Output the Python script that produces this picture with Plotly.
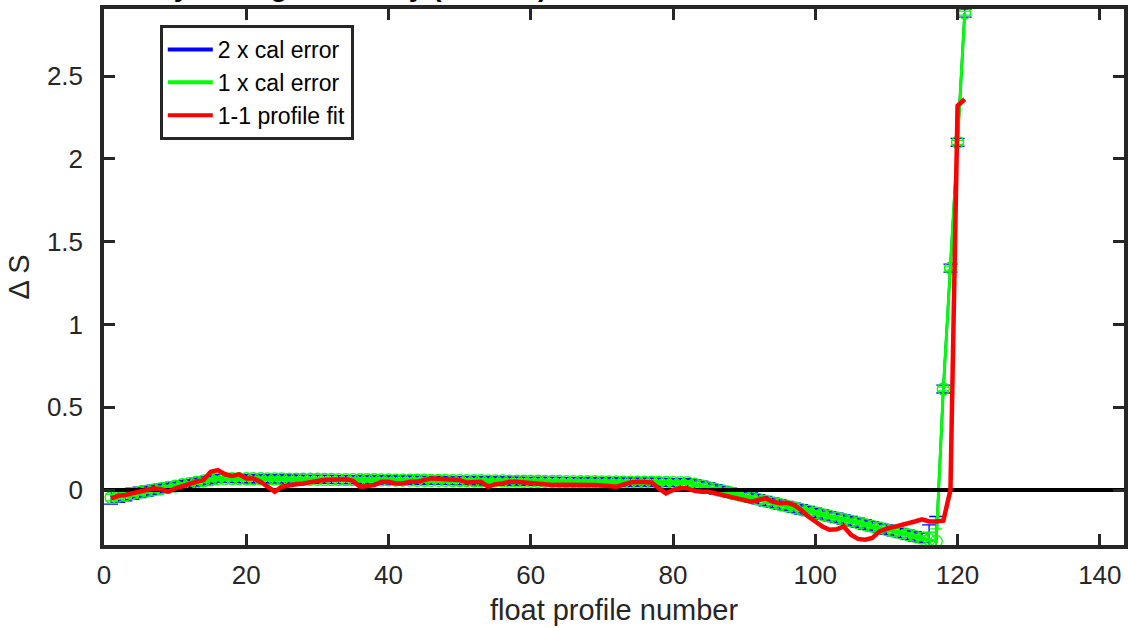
import plotly.graph_objects as go

# ---------------- data ----------------
profiles = list(range(1, 122))

cal_offset = [
    -0.045, -0.037, -0.030, -0.022, -0.014, -0.007, 0.001, 0.009, 0.016, 0.024,
    0.032, 0.039, 0.047, 0.055, 0.062, 0.070, 0.070, 0.069, 0.069, 0.068,
    0.068, 0.068, 0.067, 0.067, 0.067, 0.066, 0.066, 0.065, 0.065, 0.065,
    0.064, 0.064, 0.063, 0.063, 0.063, 0.062, 0.062, 0.062, 0.061, 0.061,
    0.060, 0.060, 0.060, 0.059, 0.059, 0.058, 0.058, 0.058, 0.057, 0.057,
    0.057, 0.056, 0.056, 0.055, 0.055, 0.055, 0.054, 0.054, 0.053, 0.053,
    0.053, 0.052, 0.052, 0.052, 0.051, 0.051, 0.050, 0.050, 0.050, 0.049,
    0.049, 0.049, 0.048, 0.048, 0.047, 0.047, 0.047, 0.046, 0.046, 0.045,
    0.045, 0.045, 0.035, 0.025, 0.015, 0.004, -0.006, -0.016, -0.026, -0.036,
    -0.046, -0.056, -0.067, -0.077, -0.087, -0.097, -0.107, -0.117, -0.127, -0.138,
    -0.148, -0.158, -0.168, -0.178, -0.188, -0.198, -0.209, -0.219, -0.229, -0.239,
    -0.249, -0.259, -0.270, -0.280, -0.290, -0.300, -0.310, 0.610, 1.340, 2.100,
    2.880,
]

cal_error = [
    0.020, 0.019, 0.018, 0.017, 0.016, 0.015, 0.014, 0.013, 0.013, 0.012,
    0.012, 0.012, 0.012, 0.012, 0.012, 0.012, 0.012, 0.012, 0.012, 0.012,
    0.012, 0.012, 0.012, 0.012, 0.012, 0.012, 0.012, 0.012, 0.012, 0.012,
    0.012, 0.012, 0.012, 0.012, 0.012, 0.012, 0.012, 0.012, 0.012, 0.012,
    0.012, 0.012, 0.012, 0.012, 0.012, 0.012, 0.012, 0.012, 0.012, 0.012,
    0.012, 0.012, 0.012, 0.012, 0.012, 0.012, 0.012, 0.012, 0.012, 0.012,
    0.012, 0.012, 0.012, 0.012, 0.012, 0.012, 0.012, 0.012, 0.012, 0.012,
    0.012, 0.012, 0.012, 0.012, 0.012, 0.012, 0.012, 0.012, 0.012, 0.012,
    0.012, 0.012, 0.014, 0.014, 0.014, 0.014, 0.014, 0.014, 0.014, 0.014,
    0.014, 0.014, 0.014, 0.014, 0.014, 0.014, 0.014, 0.014, 0.014, 0.014,
    0.014, 0.014, 0.014, 0.014, 0.014, 0.014, 0.014, 0.014, 0.014, 0.014,
    0.014, 0.014, 0.014, 0.014, 0.014, 0.045, 0.075, 0.012, 0.012, 0.012,
    0.012,
]

profile_fit = [
    -0.050, -0.035, -0.030, -0.020, -0.010, 0.000, 0.010, 0.005, -0.010, 0.010,
    0.025, 0.040, 0.050, 0.060, 0.110, 0.120, 0.095, 0.085, 0.095, 0.070,
    0.070, 0.050, 0.020, -0.010, 0.020, 0.030, 0.035, 0.040, 0.050, 0.055,
    0.060, 0.062, 0.065, 0.065, 0.055, 0.020, 0.025, 0.030, 0.050, 0.050,
    0.040, 0.040, 0.050, 0.050, 0.060, 0.070, 0.068, 0.065, 0.065, 0.060,
    0.045, 0.045, 0.050, 0.020, 0.035, 0.040, 0.050, 0.050, 0.045, 0.040,
    0.035, 0.030, 0.030, 0.032, 0.030, 0.028, 0.030, 0.030, 0.030, 0.030,
    0.025, 0.020, 0.035, 0.045, 0.050, 0.050, 0.045, 0.010, -0.020, 0.000,
    0.012, 0.010, -0.005, -0.010, -0.010, -0.020, -0.030, -0.040, -0.050, -0.060,
    -0.070, -0.060, -0.050, -0.070, -0.080, -0.077, -0.090, -0.120, -0.160, -0.190,
    -0.220, -0.240, -0.237, -0.220, -0.270, -0.295, -0.300, -0.290, -0.250, -0.235,
    -0.225, -0.210, -0.200, -0.190, -0.177, -0.190, -0.190, -0.185, 0.000, 2.320,
    2.360,
]

x_limits = [0, 143.4]
y_limits = [-0.332, 2.905]
x_ticks = [0, 20, 40, 60, 80, 100, 120, 140]
y_ticks = [0, 0.5, 1, 1.5, 2, 2.5]
y_ticklabels = ["0", "0.5", "1", "1.5", "2", "2.5"]
legend_names = ["2 x cal error", "1 x cal error", "1-1 profile fit"]
title_text = "vertically averaged salinity (PSS-78) additive correction \u0394S with errors"

BLUE = "#0000FF"
GREEN = "#00FF00"
RED = "#FF0000"
AX = "#262626"
FONT = "Liberation Sans, Arial, sans-serif"

two_err = [2 * e for e in cal_error]

fig = go.Figure()

# 2 x cal error (blue)
fig.add_trace(go.Scatter(
    x=profiles, y=cal_offset, mode="lines",
    line=dict(color=BLUE, width=2.5),
    error_y=dict(type="data", array=two_err, visible=True, color=BLUE, thickness=1.3, width=7),
    showlegend=False, hoverinfo="skip",
))

# 1 x cal error (green, circles)
fig.add_trace(go.Scatter(
    x=profiles, y=cal_offset, mode="lines+markers",
    line=dict(color=GREEN, width=3),
    marker=dict(symbol="circle-open", size=12, color=GREEN, line=dict(width=1.3, color=GREEN)),
    error_y=dict(type="data", array=cal_error, visible=True, color=GREEN, thickness=1.3, width=6),
    showlegend=False, hoverinfo="skip",
))

# zero line
fig.add_trace(go.Scatter(
    x=x_limits, y=[0, 0], mode="lines",
    line=dict(color="#000000", width=4),
    showlegend=False, hoverinfo="skip",
))

# 1-1 profile fit (red)
fig.add_trace(go.Scatter(
    x=profiles, y=profile_fit, mode="lines",
    line=dict(color=RED, width=4.5),
    showlegend=False, hoverinfo="skip",
))

# legend entries
for name, col in zip(legend_names, [BLUE, GREEN, RED]):
    fig.add_trace(go.Scatter(
        x=[None], y=[None], mode="lines", name=name,
        line=dict(color=col, width=4),
    ))

fig.update_layout(
    width=1128, height=628,
    margin=dict(l=104, r=0, t=9, b=83),
    paper_bgcolor="white", plot_bgcolor="white",
    font=dict(family=FONT, color=AX),
    showlegend=True,
    legend=dict(
        x=(160 - 104) / 1024, y=1 - (25 - 9) / 536,
        xanchor="left", yanchor="top",
        bgcolor="white", bordercolor=AX, borderwidth=3,
        font=dict(size=23, color="#000000", family=FONT),
        tracegroupgap=0, itemwidth=45,
    ),
    annotations=[dict(
        text="<b>" + title_text + "</b>",
        xref="paper", yref="paper",
        x=(66 - 104) / 1024, y=1 + 5 / 536,
        xanchor="left", yanchor="bottom",
        showarrow=False,
        font=dict(size=28, color="#000000", family=FONT),
    )],
)

fig.update_xaxes(
    range=x_limits, tickvals=x_ticks,
    ticks="inside", ticklen=11, tickwidth=3, tickcolor=AX,
    showline=True, linewidth=3.5, linecolor=AX, mirror="ticks",
    showgrid=False, zeroline=False,
    tickfont=dict(size=26, color=AX, family=FONT),
    ticklabelstandoff=4,
    title=dict(text="float profile number", font=dict(size=29, color=AX, family=FONT), standoff=12),
)
fig.update_yaxes(
    range=y_limits, tickvals=y_ticks, ticktext=y_ticklabels,
    ticks="inside", ticklen=11, tickwidth=3, tickcolor=AX,
    showline=True, linewidth=3.5, linecolor=AX, mirror="ticks",
    showgrid=False, zeroline=False,
    tickfont=dict(size=26, color=AX, family=FONT),
    ticklabelstandoff=12,
    title=dict(text="\u0394 S", font=dict(size=29, color=AX, family=FONT), standoff=10),
)

fig.write_html("out.html")
